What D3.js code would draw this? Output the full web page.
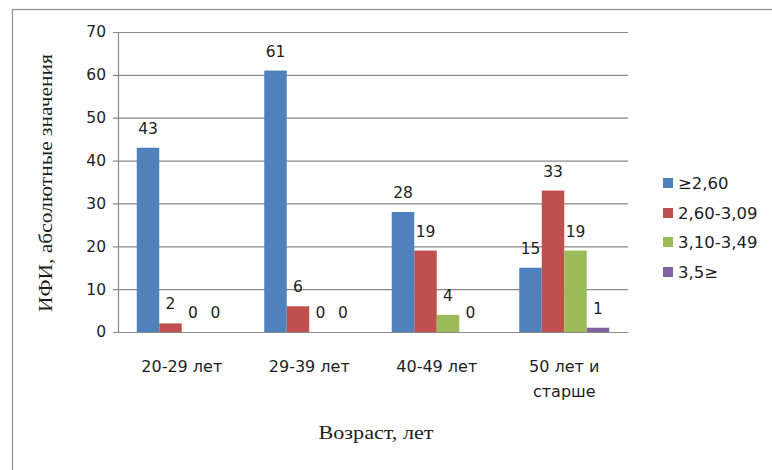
<!DOCTYPE html>
<html>
<head>
<meta charset="utf-8">
<script src="https://cdn.jsdelivr.net/npm/d3@7"></script>
<style>
  body { margin: 0; background: #fff; }
  svg { display: block; }
</style>
</head>
<body>
<svg id="chart" width="772" height="470"></svg>
<script>
const categories = [["20-29 лет"], ["29-39 лет"], ["40-49 лет"], ["50 лет и", "старше"]];
const seriesNames = ["≥2,60", "2,60-3,09", "3,10-3,49", "3,5≥"];
const seriesColors = ["#4F81BD", "#C0504D", "#9BBB59", "#8064A2"];
const s1 = [43, 61, 28, 15];
const s2 = [2, 6, 19, 33];
const s3 = [0, 0, 4, 19];
const s4 = [0, 0, 0, 1];
const yTicks = [0, 10, 20, 30, 40, 50, 60, 70];
const yTitle = "ИФИ, абсолютные значения";
const xTitle = "Возраст, лет";

const series = [s1, s2, s3, s4];
const svg = d3.select("#chart");
const W = 772, H = 470;
const pLeft = 118, pRight = 628, pTop = 32, pBottom = 332;
const sans = "'DejaVu Sans', sans-serif";
const serif = "'Liberation Serif', 'Times New Roman', serif";
const ink = "#1e1e1e";

svg.append("rect").attr("width", W).attr("height", H).attr("fill", "#fff");
// outer frame (extends beyond the picture on the right and bottom)
svg.append("rect").attr("x", 12.5).attr("y", 9.5).attr("width", 900).attr("height", 600)
  .attr("fill", "none").attr("stroke", "#8c8c8c").attr("stroke-width", 1.2);

const x0 = d3.scaleBand().domain(d3.range(categories.length)).range([pLeft, pRight]).paddingInner(0).paddingOuter(0);
const barW = 22.5;
const x1 = d3.scaleBand().domain(d3.range(series.length)).range([0, barW * series.length]);
const y = d3.scaleLinear().domain([0, 70]).range([pBottom, pTop]);

// gridlines + y axis
const yAxis = d3.axisLeft(y).tickValues(yTicks).tickSize(-(pRight - pLeft)).tickPadding(12).tickFormat(d3.format("d"));
const gy = svg.append("g").attr("transform", `translate(${pLeft},0)`).call(yAxis);
gy.select(".domain").remove();
gy.selectAll(".tick line").attr("stroke", "#8a8a8a").attr("stroke-width", 1.2).attr("x1", -5);
gy.selectAll(".tick text").attr("font-family", sans).attr("font-size", 15.5).attr("fill", ink);
svg.append("line").attr("x1", pLeft + 0.5).attr("x2", pLeft + 0.5).attr("y1", pTop).attr("y2", pBottom)
  .attr("stroke", "#8a8a8a").attr("stroke-width", 1.2);

// bars
const groups = svg.append("g").selectAll("g").data(categories).join("g")
  .attr("transform", (d, i) => `translate(${x0(i) + (x0.bandwidth() - barW * series.length) / 2},0)`);

groups.each(function(c, ci) {
  const g = d3.select(this);
  series.forEach((s, si) => {
    const v = s[ci];
    g.append("rect")
      .attr("x", x1(si)).attr("width", x1.bandwidth())
      .attr("y", y(v)).attr("height", pBottom - y(v))
      .attr("fill", seriesColors[si]);
    g.append("text")
      .attr("x", x1(si) + x1.bandwidth() / 2)
      .attr("y", y(v) - 14)
      .attr("text-anchor", "middle")
      .attr("font-family", sans).attr("font-size", 15.5).attr("fill", ink)
      .text(v);
  });
});

// redraw baseline over bars
svg.append("line").attr("x1", pLeft - 5).attr("x2", pRight).attr("y1", pBottom + 0.5).attr("y2", pBottom + 0.5)
  .attr("stroke", "#8a8a8a").attr("stroke-width", 1.2);

// category labels
categories.forEach((lines, i) => {
  const cx = x0(i) + x0.bandwidth() / 2;
  const t = svg.append("text")
    .attr("x", cx).attr("y", 372)
    .attr("text-anchor", "middle")
    .attr("font-family", sans).attr("font-size", 16).attr("fill", ink);
  lines.forEach((ln, li) => {
    t.append("tspan").attr("x", cx).attr("dy", li === 0 ? 0 : 25).text(ln);
  });
});

// axis titles
svg.append("text")
  .attr("transform", `translate(52,183) rotate(-90)`)
  .attr("text-anchor", "middle")
  .attr("font-family", serif).attr("font-size", 19).attr("fill", ink)
  .attr("textLength", 258).attr("lengthAdjust", "spacingAndGlyphs")
  .text(yTitle);
svg.append("text")
  .attr("x", 376).attr("y", 439)
  .attr("text-anchor", "middle")
  .attr("font-family", serif).attr("font-size", 18).attr("fill", ink)
  .attr("textLength", 115).attr("lengthAdjust", "spacingAndGlyphs")
  .text(xTitle);

// legend
const legendY = [183, 213, 242, 272];
const lg = svg.append("g").selectAll("g").data(seriesNames).join("g")
  .attr("transform", (d, i) => `translate(663,${legendY[i]})`);
lg.append("rect").attr("x", 0).attr("y", -5).attr("width", 10).attr("height", 10)
  .attr("fill", (d, i) => seriesColors[i]);
lg.append("text").attr("x", 15).attr("y", 0).attr("dy", "0.35em")
  .attr("font-family", sans).attr("font-size", 16.5).attr("fill", ink)
  .text(d => d);
</script>
</body>
</html>
